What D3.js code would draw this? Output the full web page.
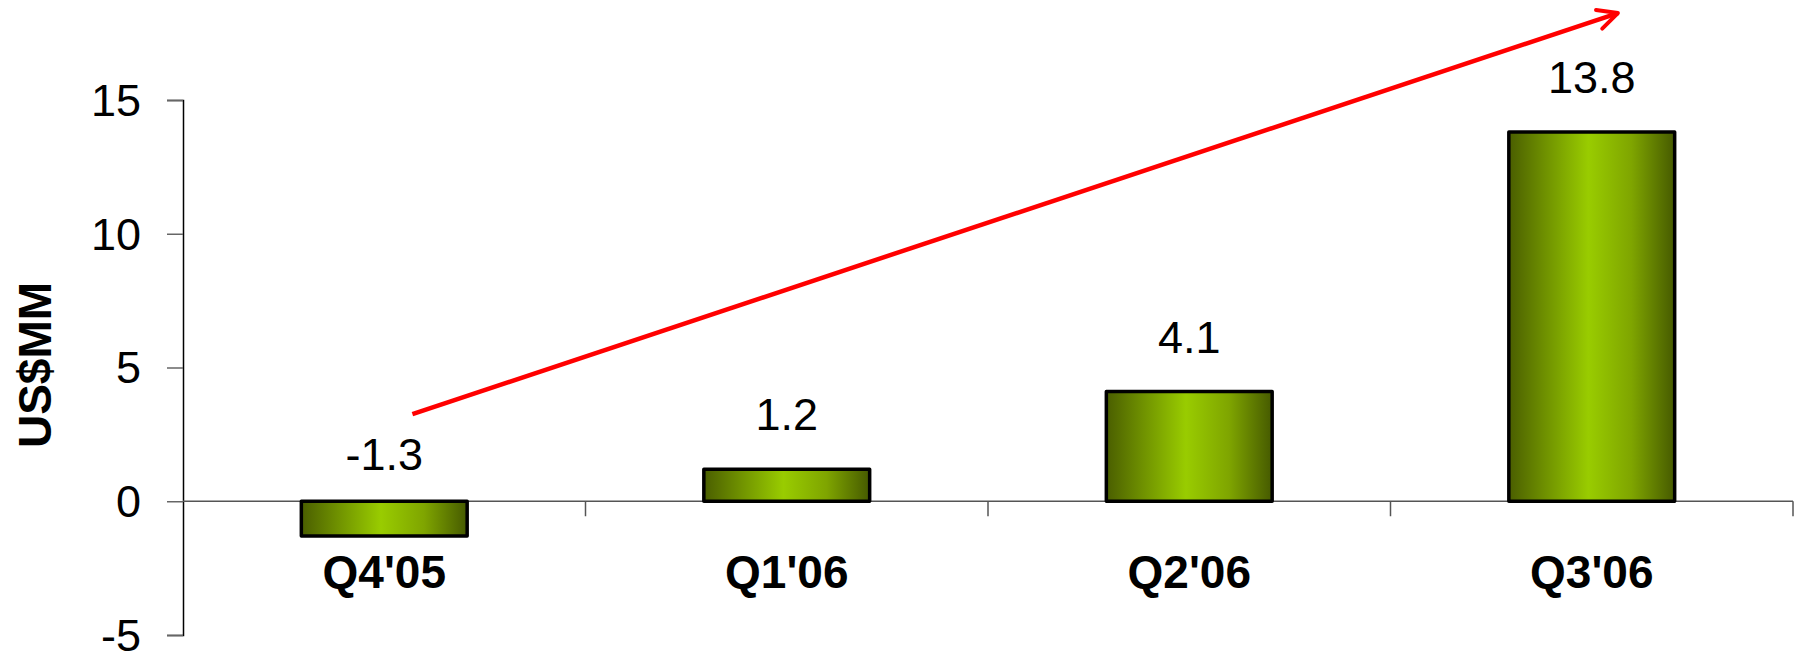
<!DOCTYPE html>
<html>
<head>
<meta charset="utf-8">
<script src="https://cdn.jsdelivr.net/npm/d3@7"></script>
<style>
  html, body { margin: 0; padding: 0; background: #fff; }
  svg { display: block; }
  text { font-family: "Liberation Sans", Arial, sans-serif; fill: #000; }
</style>
</head>
<body>
<svg id="chart" width="1799" height="651"></svg>
<script>
// ---- data ----
const categories = ["Q4'05", "Q1'06", "Q2'06", "Q3'06"];
const values = [-1.3, 1.2, 4.1, 13.8];
const valueLabels = ["-1.3", "1.2", "4.1", "13.8"];
const yTicks = [-5, 0, 5, 10, 15];
const yTickLabels = ["-5", "0", "5", "10", "15"];
const yTitle = "US$MM";
// trend arrow in data units: [category index position, value]
const arrowStart = [0.07, 3.26];
const arrowEnd = [3.065, 18.25];

// ---- layout ----
const svg = d3.select("#chart");
const plotLeft = 183, plotRight = 1793, plotTop = 100, plotBottom = 635;

const x = d3.scaleBand().domain(categories).range([plotLeft, plotRight])
  .paddingInner(0.588).paddingOuter(0.294);
const y = d3.scaleLinear().domain([-5, 15]).range([plotBottom, plotTop]);
const xPos = d3.scaleLinear().domain([-0.5, categories.length - 0.5]).range([plotLeft, plotRight]);

// gradient
const defs = svg.append("defs");
const grad = defs.append("linearGradient").attr("id", "barGrad")
  .attr("x1", "0%").attr("x2", "100%").attr("y1", "0%").attr("y2", "0%");
grad.append("stop").attr("offset", "0%").attr("stop-color", "#4a5e00");
grad.append("stop").attr("offset", "22%").attr("stop-color", "#6f9100");
grad.append("stop").attr("offset", "48%").attr("stop-color", "#99cc00");
grad.append("stop").attr("offset", "74%").attr("stop-color", "#7fa500");
grad.append("stop").attr("offset", "100%").attr("stop-color", "#465a00");

defs.append("marker").attr("id", "arrowHead")
  .attr("viewBox", "0 0 10 10").attr("refX", 9).attr("refY", 5)
  .attr("markerWidth", 5.5).attr("markerHeight", 5.5)
  .attr("markerUnits", "strokeWidth")
  .attr("orient", "auto")
  .append("path").attr("d", "M1,1 L9,5 L1,9")
  .attr("fill", "none").attr("stroke", "#ff0000").attr("stroke-width", 1.6)
  .attr("stroke-linecap", "round").attr("stroke-linejoin", "round");

// y axis
const yAxis = d3.axisLeft(y).tickValues(yTicks).tickSize(16).tickPadding(26)
  .tickFormat((d, i) => yTickLabels[i]);
const gy = svg.append("g").attr("transform", `translate(${plotLeft},0)`).call(yAxis);
gy.select(".domain").attr("stroke", "#000").attr("stroke-width", 1.5);
gy.selectAll(".tick line").attr("stroke", "#666").attr("stroke-width", 1.5);
gy.selectAll(".tick text").style("font-size", "45px")
  .style("font-family", "'Liberation Sans', Arial, sans-serif").attr("fill", "#000")
  .attr("dy", "0.34em");

// zero line with category separators
const zeroY = y(0);
svg.append("line").attr("x1", plotLeft).attr("x2", plotRight).attr("y1", zeroY).attr("y2", zeroY)
  .attr("stroke", "#555").attr("stroke-width", 1.5);
const seps = d3.range(1, categories.length + 1).map(i => plotLeft + i * x.step());
svg.selectAll(".sep").data(seps).join("line")
  .attr("x1", d => d).attr("x2", d => d).attr("y1", zeroY).attr("y2", zeroY + 15)
  .attr("stroke", "#555").attr("stroke-width", 1.5);

// bars
svg.selectAll(".bar").data(values).join("rect")
  .attr("x", (d, i) => x(categories[i]))
  .attr("width", x.bandwidth())
  .attr("y", d => y(Math.max(0, d)))
  .attr("height", d => Math.abs(y(d) - y(0)))
  .attr("fill", "url(#barGrad)")
  .attr("stroke", "#000").attr("stroke-width", 3.5).attr("stroke-linejoin", "round");

// value labels
svg.selectAll(".vlab").data(values).join("text")
  .attr("x", (d, i) => x(categories[i]) + x.bandwidth() / 2)
  .attr("y", d => y(Math.max(0, d)) - (d < 0 ? 31 : 39))
  .attr("text-anchor", "middle")
  .style("font-size", "45px")
  .text((d, i) => valueLabels[i]);

// category labels
svg.selectAll(".clab").data(categories).join("text")
  .attr("x", d => x(d) + x.bandwidth() / 2)
  .attr("y", 588)
  .attr("text-anchor", "middle")
  .style("font-size", "46px").style("font-weight", "bold")
  .text(d => d);

// y title
svg.append("text")
  .attr("transform", `translate(51,365) rotate(-90)`)
  .attr("text-anchor", "middle")
  .style("font-size", "46px").style("font-weight", "bold")
  .text(yTitle);

// trend arrow
svg.append("line")
  .attr("x1", xPos(arrowStart[0])).attr("y1", y(arrowStart[1]))
  .attr("x2", xPos(arrowEnd[0])).attr("y2", y(arrowEnd[1]))
  .attr("stroke", "#ff0000").attr("stroke-width", 4.5)
  .attr("marker-end", "url(#arrowHead)");
</script>
</body>
</html>
